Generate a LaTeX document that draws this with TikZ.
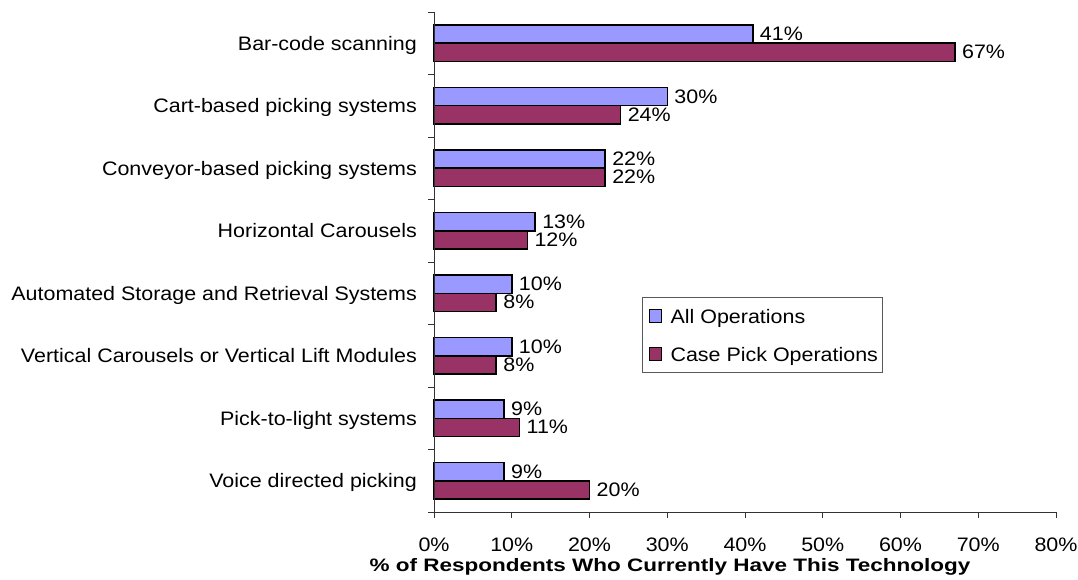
\documentclass[tikz,border=0pt]{standalone}
\usepackage{fontspec}
\setmainfont{Liberation Sans}[FakeStretch=1.1]
\newfontfamily\titlefont{Liberation Sans}[FakeStretch=1.25]
\usetikzlibrary{positioning}
\definecolor{allops}{HTML}{9999FF}
\definecolor{caseops}{HTML}{993366}

\begin{document}
\begin{tikzpicture}[x=1pt, y=-1pt,
                    every node/.style={font=\fontsize{19.5}{23}\selectfont,
                                       inner sep=0pt},
                    allbar/.style={draw=black, line width=1.5pt, fill=allops},
                    casebar/.style={draw=black, line width=1.5pt, fill=caseops},
                    axisline/.style={draw=black!80, line width=0.9pt},
                    keymark/.style={draw=black, line width=1.2pt,
                                    minimum width=12.5pt, minimum height=12.5pt},
                    keytext/.style={text height=14pt, text depth=0pt}]
                      \useasboundingbox (0,0) rectangle (1078,580);

                      \coordinate (top) at (434,12);
                      \coordinate (origin) at (434,512);
                      \coordinate (right) at (1056,512);

                      \foreach \i/\name/\a/\c in {0/Bar-code scanning/41/67,
                                                  1/Cart-based picking systems/30/24,
                                                  2/Conveyor-based picking systems/22/22,
                                                  3/Horizontal Carousels/13/12,
                                                  4/Automated Storage and Retrieval Systems/10/8,
                                                  5/Vertical Carousels or Vertical Lift Modules/10/8,
                                                  6/Pick-to-light systems/9/11,
                                                  7/Voice directed picking/9/20} {
                              \pgfmathsetmacro{\yc}{43.25+62.5*\i}
                              \draw[allbar] (434,\yc-18.3) rectangle (434+7.775*\a,\yc);
                              \draw[casebar] (434,\yc) rectangle (434+7.775*\c,\yc+18.3);
                              \node[anchor=base west] (va\i) at (434+7.775*\a+7,\yc-9.15+6.5) {\a\%};
                              \node[anchor=base west] (vc\i) at (434+7.775*\c+7,\yc+9.15+6.5) {\c\%};
                              \node[anchor=base east] (cat\i) at (417,\yc+7) {\name};
                          }

                      \draw[axisline] (top) -- (origin) -- (right);
                      \foreach \k in {0,...,8} {
                              \draw[axisline] (428,12+62.5*\k) -- (434,12+62.5*\k);
                              \draw[axisline] (434+77.75*\k,512) -- (434+77.75*\k,518);
                              \pgfmathtruncatemacro{\p}{10*\k}
                              \node[anchor=base] (tick\k) at (434+77.75*\k,551.5) {\p\%};
                          }

                      \node[anchor=base, font=\titlefont\fontsize{18}{21}\bfseries\selectfont] (title)
                            at (670,571) {\% of Respondents Who Currently Have This Technology};

                      \node[draw=black!65, line width=0.9pt, minimum width=240pt,
                            minimum height=75pt] (legend) at (762,334.5) {};
                      \node[keymark, fill=allops] (keyall) at (655.5,316) {};
                      \node[keymark, fill=caseops] (keycase) at (655.5,354) {};
                      \node[keytext, right=8pt of keyall] (keyalltext) {All Operations};
                      \node[keytext, right=8pt of keycase] (keycasetext) {Case Pick Operations};
                  \end{tikzpicture}
\end{document}
